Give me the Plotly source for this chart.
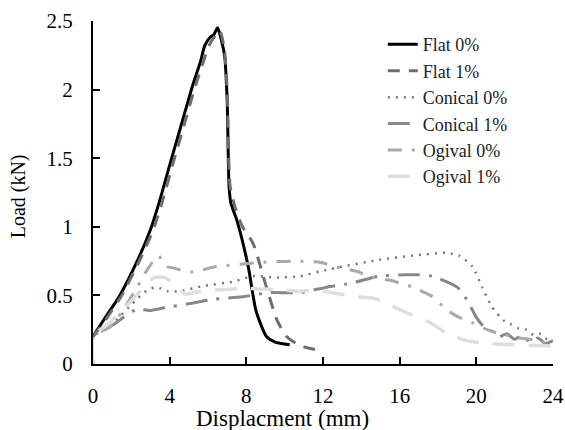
import plotly.graph_objects as go

# ---- data (Displacement mm, Load kN) ----
flat0_x = [0, 0.6, 1.4, 2.34, 3.0, 3.5, 4.0, 4.6, 5.2, 5.6, 5.83, 6.1, 6.3, 6.5, 6.7, 6.87, 7.0, 7.1, 7.2, 7.5, 8.1, 8.5, 9.05, 9.5, 10.26]
flat0_y = [0.2, 0.33, 0.5, 0.76, 0.98, 1.2, 1.45, 1.74, 2.03, 2.2, 2.32, 2.38, 2.4, 2.45, 2.36, 2.24, 1.92, 1.29, 1.17, 1.05, 0.71, 0.39, 0.2, 0.16, 0.14]

flat1_x = [0, 0.6, 1.5, 2.45, 3.15, 3.65, 4.15, 4.75, 5.35, 5.75, 6.05, 6.6, 6.85, 7.0, 7.15, 7.4, 7.8, 8.35, 9.05, 9.6, 10.1, 10.6, 11.1, 11.8]
flat1_y = [0.2, 0.31, 0.5, 0.76, 0.98, 1.2, 1.45, 1.74, 2.03, 2.2, 2.32, 2.43, 2.3, 2.0, 1.3, 1.15, 1.0, 0.88, 0.56, 0.32, 0.2, 0.15, 0.12, 0.1]

con0_x = [0, 0, 1.05, 2.34, 2.86, 3.3, 3.55, 3.9, 4.5, 5.8, 7.3, 8.35, 9.7, 10.8, 12.3, 14.95, 16.7, 18.4, 19.1, 19.8, 20.3, 20.8, 21.4, 21.8, 22.2, 22.6, 23.0, 23.3, 23.7, 24.0]
con0_y = [0, 0.2, 0.3, 0.48, 0.54, 0.56, 0.55, 0.53, 0.53, 0.57, 0.6, 0.64, 0.63, 0.64, 0.69, 0.76, 0.79, 0.81, 0.79, 0.71, 0.56, 0.42, 0.32, 0.29, 0.26, 0.25, 0.21, 0.22, 0.18, 0.18]

con1_x = [0, 0, 1.0, 1.6, 2.3, 2.95, 3.73, 5.03, 6.2, 7.8, 9.2, 10.8, 12.2, 13.5, 14.9, 16.3, 17.0, 17.7, 19.0, 19.5, 20.0, 20.4, 20.8, 21.2, 21.6, 22.0, 22.4, 22.8, 23.2, 23.6, 24.0]
con1_y = [0, 0.2, 0.28, 0.34, 0.4, 0.39, 0.41, 0.44, 0.47, 0.49, 0.52, 0.52, 0.56, 0.59, 0.64, 0.65, 0.65, 0.64, 0.56, 0.47, 0.34, 0.27, 0.24, 0.2, 0.22, 0.18, 0.21, 0.16, 0.19, 0.15, 0.17]

ogi0_x = [0, 0, 0.9, 1.6, 2.3, 2.8, 3.4, 3.85, 4.2, 5.05, 6.45, 8.7, 10.5, 11.9, 12.6, 13.9, 14.3, 15.5, 16.0, 16.7, 17.6, 17.9, 18.4, 19.1, 19.8, 20.4, 21.0, 21.6, 22.2, 22.8, 23.4, 24.0]
ogi0_y = [0, 0.2, 0.27, 0.4, 0.56, 0.68, 0.79, 0.71, 0.7, 0.67, 0.71, 0.74, 0.75, 0.74, 0.71, 0.67, 0.64, 0.61, 0.59, 0.56, 0.5, 0.47, 0.4, 0.34, 0.3, 0.26, 0.23, 0.21, 0.19, 0.18, 0.16, 0.15]

ogi1_x = [0, 0, 0.87, 2.0, 3.2, 3.7, 4.3, 4.8, 5.6, 8.0, 9.7, 10.8, 11.5, 12.5, 13.7, 14.6, 15.5, 16.1, 17.6, 18.4, 19.5, 20.5, 22.0, 24.0]
ogi1_y = [0, 0.2, 0.3, 0.46, 0.63, 0.63, 0.58, 0.51, 0.53, 0.55, 0.54, 0.53, 0.54, 0.52, 0.49, 0.48, 0.43, 0.39, 0.3, 0.23, 0.17, 0.15, 0.14, 0.13]

x_ticks = [0, 4, 8, 12, 16, 20, 24]
y_ticks = [0, 0.5, 1, 1.5, 2, 2.5]
y_ticktext = ["0", "0.5", "1", "1.5", "2", "2.5"]

names = ["Flat 0%", "Flat 1%", "Conical 0%", "Conical 1%", "Ogival 0%", "Ogival 1%"]
xs = [flat0_x, flat1_x, con0_x, con1_x, ogi0_x, ogi1_x]
ys = [flat0_y, flat1_y, con0_y, con1_y, ogi0_y, ogi1_y]
colors = ["#000000", "#6e6e6e", "#767676", "#888888", "#a9a9a9", "#dedede"]
dashes = ["solid", "12px,9px", "2px,6px", "22px,9px,3px,9px", "14px,10px,3px,10px", "22px,14px"]
widths = [3, 3, 2.5, 3, 3, 3.5]

fig = go.Figure()
for i in range(6):
    fig.add_trace(go.Scatter(
        x=xs[i], y=ys[i], mode="lines", name=names[i],
        legendgroup=names[i],
        line=dict(color=colors[i], dash=dashes[i], width=widths[i], shape="spline", smoothing=0.6),
    ))

font_family = "Liberation Serif, Times New Roman, serif"
fig.update_layout(
    width=565, height=430,
    margin=dict(l=93, r=12, t=21, b=66, autoexpand=False),
    paper_bgcolor="white", plot_bgcolor="white",
    font=dict(family=font_family, size=18, color="black"),
    showlegend=True,
    legend=dict(x=0.63, y=0.985, xanchor="left", yanchor="top",
                font=dict(family=font_family, size=18, color="#222"),
                bgcolor="rgba(0,0,0,0)", tracegroupgap=0, traceorder="grouped"),
    xaxis=dict(range=[0, 24], tickvals=x_ticks, ticks="inside", automargin=False,
               ticklen=7, tickwidth=2, tickcolor="black", showline=True, linecolor="black",
               linewidth=2, showgrid=False, zeroline=False, ticklabelstandoff=12,
               tickfont=dict(family=font_family, size=21)),
    yaxis=dict(range=[0, 2.5], tickvals=y_ticks, ticktext=y_ticktext, automargin=False,
               ticks="inside", ticklen=7, tickwidth=2, tickcolor="black", showline=True,
               linecolor="black", linewidth=2, showgrid=False, zeroline=False,
               ticklabelstandoff=14, tickfont=dict(family=font_family, size=21)),
    annotations=[
        dict(text="Displacment (mm)", xref="paper", yref="paper", x=0.413, y=-0.16,
             xanchor="center", yanchor="middle", showarrow=False,
             font=dict(family=font_family, size=23)),
        dict(text="Load (kN)", xref="paper", yref="paper", x=-0.16, y=0.49,
             xanchor="center", yanchor="middle", showarrow=False, textangle=-90,
             font=dict(family=font_family, size=20)),
    ],
)

fig.write_html("out.html", config={"displayModeBar": False},
               post_script="document.body.style.margin='0';document.body.style.overflow='hidden';")
